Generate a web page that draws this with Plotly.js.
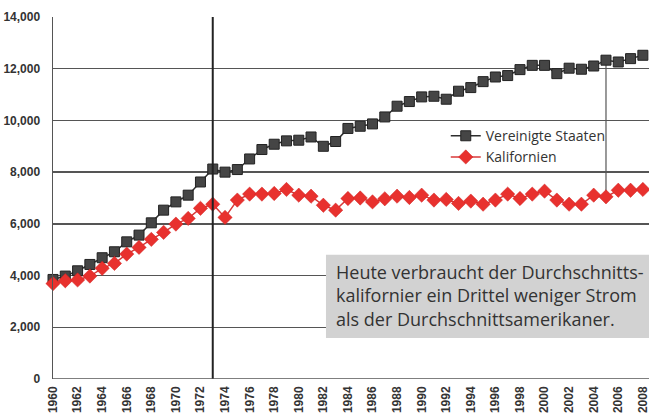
<!DOCTYPE html>
<html>
<head>
<meta charset="utf-8">
<script src="https://cdn.plot.ly/plotly-3.0.1.min.js"></script>
<style>
html,body{margin:0;padding:0;background:#fff;}
#chart{width:649px;height:414px;}
</style>
</head>
<body>
<div id="chart"></div>
<script>
const years = [1960,1961,1962,1963,1964,1965,1966,1967,1968,1969,1970,1971,1972,1973,1974,1975,1976,1977,1978,1979,1980,1981,1982,1983,1984,1985,1986,1987,1988,1989,1990,1991,1992,1993,1994,1995,1996,1997,1998,1999,2000,2001,2002,2003,2004,2005,2006,2007,2008];
const usValues = [3850,3980,4185,4430,4690,4920,5305,5565,6040,6530,6850,7110,7620,8120,8000,8100,8510,8875,9080,9210,9235,9360,9000,9185,9690,9775,9865,10135,10550,10730,10910,10935,10820,11130,11270,11500,11680,11735,11965,12130,12130,11810,12020,11980,12105,12330,12260,12390,12520];
const caValues = [3690,3800,3830,3980,4280,4470,4830,5090,5400,5670,5990,6210,6600,6760,6250,6920,7150,7150,7175,7330,7110,7070,6720,6530,6980,7000,6850,6970,7070,7020,7110,6920,6945,6790,6880,6760,6920,7150,6980,7150,7265,6920,6760,6760,7110,7045,7300,7300,7330];
const seriesNames = ["Vereinigte Staaten", "Kalifornien"];
const tickYears = [1960,1962,1964,1966,1968,1970,1972,1974,1976,1978,1980,1982,1984,1986,1988,1990,1992,1994,1996,1998,2000,2002,2004,2006,2008];
const yTicks = [0,2000,4000,6000,8000,10000,12000,14000];
const yTickLabels = ["0","2,000","4,000","6,000","8,000","10,000","12,000","14,000"];
const markYear = 1973;
const gapYear = 2005;
const noteText = "Heute verbraucht der Durchschnitts-<br>kalifornier ein Drittel weniger Strom<br>als der Durchschnittsamerikaner.";

const gi = years.indexOf(gapYear);

const traces = [
  {
    x: [gapYear, gapYear], y: [usValues[gi], caValues[gi]],
    mode: 'lines', line: {color: '#555555', width: 1.2},
    showlegend: false, hoverinfo: 'skip', cliponaxis: false
  },
  {
    x: years, y: usValues, name: seriesNames[0],
    mode: 'lines+markers',
    line: {color: '#2e2e2e', width: 1.5},
    marker: {symbol: 'square', size: 10, color: '#454545', line: {color: '#222222', width: 1}},
    cliponaxis: false
  },
  {
    x: years, y: caValues, name: seriesNames[1],
    mode: 'lines+markers',
    line: {color: '#d83a3a', width: 1.5},
    marker: {symbol: 'diamond', size: 11, color: '#e8312e', line: {color: '#d02020', width: 0.5}},
    cliponaxis: false
  }
];

const tickFont = {family: 'Arial, Liberation Sans, sans-serif', size: 12, color: '#333333', weight: 'bold'};

const layout = {
  width: 649, height: 414,
  margin: {l: 53, r: 0, t: 17, b: 35},
  paper_bgcolor: '#ffffff', plot_bgcolor: '#ffffff',
  showlegend: true,
  legend: {
    x: 0.659, y: 0.715, xanchor: 'left', yanchor: 'top',
    bgcolor: 'rgba(255,255,255,0)',
    font: {family: 'Open Sans, sans-serif', size: 14, color: '#333333'},
    tracegroupgap: 0, itemwidth: 30
  },
  xaxis: {
    range: [1960, 2008.5],
    tickmode: 'array', tickvals: tickYears, ticktext: tickYears.map(String),
    tickangle: -90,
    tickfont: tickFont,
    showgrid: false, zeroline: false,
    showline: false, ticks: '', ticklabelstandoff: 4,
    ticklabeloverflow: 'allow'
  },
  yaxis: {
    range: [0, 14000],
    tickmode: 'array', tickvals: yTicks, ticktext: yTickLabels,
    tickfont: tickFont,
    showgrid: true, gridcolor: '#555555', gridwidth: 1.5,
    zeroline: false, showline: true, linecolor: '#555555', linewidth: 1.5,
    ticks: '', ticklabelstandoff: 9
  },
  shapes: [
    {type: 'line', xref: 'x', yref: 'paper', x0: markYear, x1: markYear, y0: 0, y1: 1,
     line: {color: '#222222', width: 2}},
    {type: 'line', xref: 'paper', yref: 'y', x0: 0, x1: 1, y0: 0, y1: 0,
     line: {color: '#555555', width: 1.5}},
    {type: 'rect', xref: 'paper', yref: 'paper', x0: 0.458, x1: 1.02, y0: 0.113, y1: 0.343,
     fillcolor: '#d2d2d2', line: {width: 0}, layer: 'above'}
  ],
  annotations: [
    {xref: 'paper', yref: 'paper', x: 0.471, y: 0.335, xanchor: 'left', yanchor: 'top',
     text: noteText, align: 'left', showarrow: false,
     font: {family: 'Open Sans, sans-serif', size: 18, color: '#333333'}}
  ]
};

Plotly.newPlot('chart', traces, layout, {displayModeBar: false, staticPlot: true});
</script>
</body>
</html>
